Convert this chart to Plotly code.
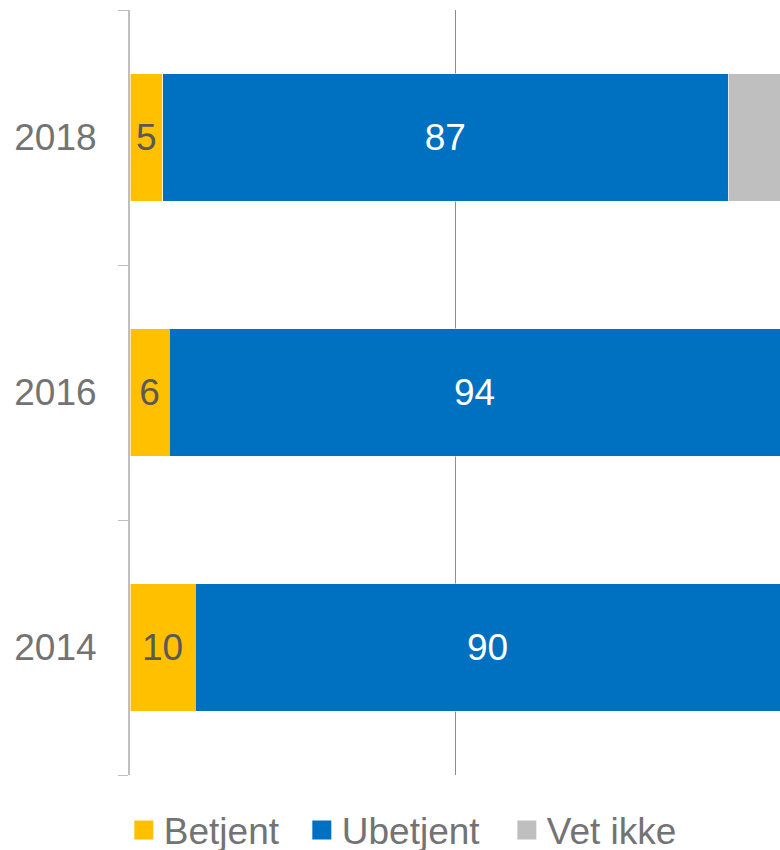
import plotly.graph_objects as go

years = ["2014", "2016", "2018"]
betjent = [10, 6, 5]
ubetjent = [90, 94, 87]
vet_ikke = [0, 0, 8]

series_names = ["Betjent", "Ubetjent", "Vet ikke"]
series_values = [betjent, ubetjent, vet_ikke]
colors = ["#FFC000", "#0070C0", "#BFBFBF"]
text_colors = ["#595959", "#FFFFFF", "#595959"]
show_text = [True, True, False]
legend_widths = [133, 160, 140]

FONT = "Liberation Sans, Arial, sans-serif"
FS = 37
GREY = "#737373"

fig = go.Figure()
for name, vals, col, tcol, st in zip(series_names, series_values, colors, text_colors, show_text):
    fig.add_trace(go.Bar(
        y=years, x=vals, name=name, orientation="h",
        marker=dict(color=col, line=dict(color="white", width=0.6)),
        text=[str(v) if (st and v > 0) else "" for v in vals],
        textposition="inside", insidetextanchor="middle",
        textfont=dict(color=tcol, size=FS, family=FONT),
        width=0.5, hoverinfo="skip", showlegend=False,
    ))
# legend-only entries with square symbols
for name, col, lw in zip(series_names, colors, legend_widths):
    fig.add_trace(go.Scatter(
        x=[None], y=[None], name=name, mode="markers",
        marker=dict(symbol="square", size=16, color=col, line=dict(color=col, width=3)),
        showlegend=True, hoverinfo="skip", legendwidth=lw,
    ))

fig.update_layout(
    barmode="stack",
    width=780, height=850,
    margin=dict(l=130, r=0, t=10, b=75, autoexpand=False),
    plot_bgcolor="white", paper_bgcolor="white",
    font=dict(family=FONT, color=GREY, size=FS),
    uniformtext=dict(mode="show", minsize=10),
    showlegend=True,
    legend=dict(orientation="h", x=-0.0095, xanchor="left", y=-0.0725, yanchor="middle",
                font=dict(size=FS, color=GREY), traceorder="normal",
                itemsizing="trace", itemwidth=30),
)
fig.update_xaxes(range=[0, 100], tickvals=[50], showticklabels=False, showgrid=True,
                 gridcolor="#8C8C8C", gridwidth=1, zeroline=False, showline=False, fixedrange=True)
fig.update_yaxes(type="category", categoryorder="array", categoryarray=years, showline=True,
                 linecolor="#BFBFBF", linewidth=2, ticks="outside", tickson="boundaries",
                 ticklen=10, tickcolor="#BFBFBF", tickwidth=1, showgrid=False,
                 tickfont=dict(size=FS, color=GREY), ticklabelstandoff=24, fixedrange=True)

# remove the default page margin / scrollbars so the 780x850 figure fills the window
page_fix = ("document.body.style.margin='0';"
            "document.body.style.overflow='hidden';"
            "document.documentElement.style.overflow='hidden';")
fig.write_html("out.html", post_script=page_fix, config={"displayModeBar": False})
